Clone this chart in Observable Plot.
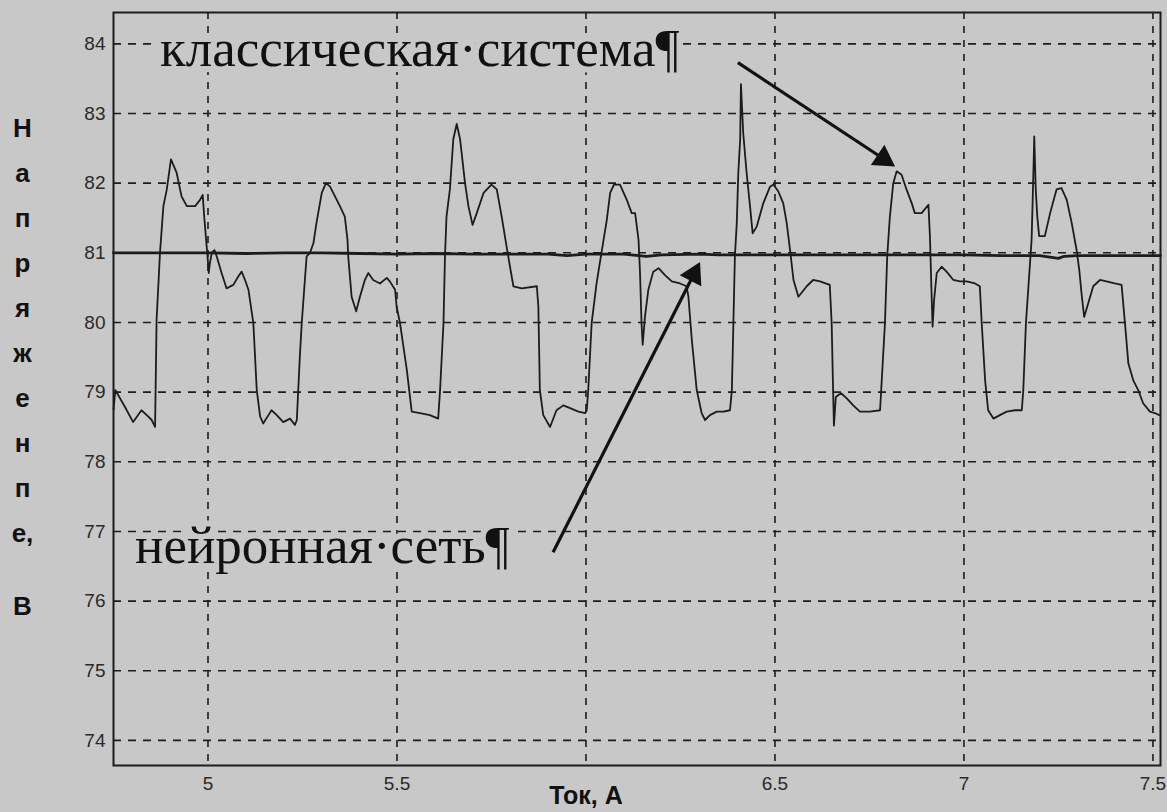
<!DOCTYPE html>
<html><head><meta charset="utf-8">
<script src="https://cdn.jsdelivr.net/npm/d3@7"></script>
<script src="https://cdn.jsdelivr.net/npm/@observablehq/plot@0.6"></script>
<style>
html,body{margin:0;padding:0;background:#c8c8c8;}
#chart svg{display:block}
</style></head><body><div id="chart"></div>
<script>
// "классическая система" – classic regulator output (voltage, V vs current, A)
const classicX = [4.750,4.755,4.758,4.780,4.802,4.824,4.838,4.851,4.860,4.864,4.873,4.882,4.891,4.902,4.917,4.930,4.944,4.966,4.979,4.986,4.990,4.995,4.998,5.002,5.005,5.010,5.017,5.023,5.036,5.049,5.067,5.080,5.089,5.098,5.107,5.120,5.129,5.138,5.146,5.160,5.168,5.182,5.199,5.217,5.230,5.235,5.243,5.248,5.257,5.261,5.270,5.279,5.287,5.301,5.312,5.323,5.349,5.362,5.369,5.371,5.380,5.392,5.402,5.415,5.424,5.437,5.455,5.473,5.481,5.495,5.499,5.508,5.526,5.539,5.561,5.587,5.609,5.614,5.623,5.627,5.631,5.640,5.649,5.658,
5.667,5.680,5.689,5.700,5.711,5.729,5.750,5.764,5.777,5.790,5.799,5.808,5.830,5.870,5.874,5.878,5.887,5.905,5.922,5.940,5.958,5.980,5.998,6.002,6.006,6.015,6.028,6.041,6.055,6.064,6.074,6.090,6.108,6.121,6.130,6.139,6.143,6.147,6.150,6.156,6.165,6.178,6.192,6.209,6.227,6.249,6.266,6.271,6.280,6.293,6.306,6.315,6.328,6.346,6.364,6.381,6.386,6.390,6.394,6.399,6.403,6.408,6.410,6.416,6.425,6.434,6.441,6.452,6.469,6.487,6.496,6.509,6.522,6.531,6.540,6.549,6.562,
6.584,6.601,6.619,6.645,6.650,6.654,6.656,6.661,6.668,6.676,6.690,6.707,6.725,6.751,6.778,6.782,6.791,6.797,6.804,6.813,6.822,6.835,6.848,6.862,6.870,6.888,6.906,6.910,6.914,6.917,6.921,6.928,6.941,6.954,6.972,6.989,7.007,7.029,7.042,7.047,7.056,7.064,7.078,7.095,7.113,7.135,7.153,7.157,7.164,7.173,7.179,7.183,7.186,7.190,7.194,7.199,7.214,7.228,7.245,7.258,7.272,7.285,7.298,7.305,7.311,7.318,7.329,7.342,7.360,7.377,7.399,7.417,7.426,7.435,7.448,7.461,7.474,7.492,7.505,7.517];
const classicY = [78.75,79.03,79.00,78.79,78.57,78.74,78.67,78.60,78.50,80.04,81.00,81.67,81.91,82.34,82.15,81.81,81.67,81.67,81.76,81.83,81.52,81.19,81.00,80.71,80.85,81.00,81.04,80.95,80.71,80.49,80.54,80.66,80.73,80.61,80.47,79.99,79.03,78.65,78.55,78.67,78.74,78.67,78.57,78.62,78.53,78.60,79.51,79.99,80.66,80.95,81.00,81.14,81.43,81.86,82.00,81.95,81.67,81.52,81.19,80.95,80.37,80.16,80.37,80.61,80.71,80.61,80.56,80.64,80.59,80.47,80.23,79.99,79.32,78.72,78.70,78.67,78.62,79.03,79.99,80.95,81.52,81.91,82.63,82.85,
82.63,82.00,81.67,81.40,81.57,81.86,81.98,81.91,81.52,81.09,80.80,80.52,80.49,80.52,80.23,79.03,78.67,78.50,78.74,78.81,78.77,78.72,78.70,78.74,79.03,79.99,80.56,81.00,81.47,81.86,81.98,81.98,81.76,81.57,81.57,81.19,80.71,79.99,79.68,80.08,80.47,80.73,80.78,80.68,80.59,80.56,80.52,80.37,79.75,79.03,78.70,78.60,78.67,78.72,78.72,78.74,79.03,79.99,80.95,81.43,82.15,82.63,83.42,82.72,82.15,81.67,81.28,81.38,81.71,81.95,81.98,81.88,81.71,81.43,81.04,80.61,80.37,
80.52,80.61,80.59,80.54,79.99,78.98,78.52,78.93,78.96,78.98,78.91,78.81,78.72,78.72,78.74,79.12,79.99,80.95,81.52,82.00,82.17,82.12,81.91,81.71,81.57,81.57,81.69,81.24,80.47,79.94,80.32,80.71,80.80,80.73,80.61,80.59,80.59,80.56,80.52,79.99,79.17,78.74,78.62,78.67,78.72,78.74,78.74,79.03,79.99,80.71,81.19,82.00,82.67,81.91,81.52,81.24,81.24,81.57,81.91,81.93,81.76,81.43,81.04,80.76,80.42,80.08,80.28,80.52,80.61,80.59,80.56,80.54,79.99,79.41,79.17,79.03,78.84,78.72,78.70,78.67];

// "нейронная сеть" – neural-network regulator output
const neuralX = [4.750,4.900,5.000,5.100,5.200,5.300,5.400,5.500,5.600,5.700,5.800,5.900,5.950,6.000,6.100,6.160,6.200,6.300,6.350,6.400,6.500,6.600,6.700,6.800,6.900,7.000,7.100,7.200,7.250,7.265,7.300,7.400,7.520];
const neuralY = [81.00,81.00,81.00,80.99,81.00,81.00,80.99,80.98,80.99,80.98,80.98,80.98,80.96,80.98,80.98,80.95,80.97,80.98,80.97,80.97,80.97,80.97,80.97,80.97,80.97,80.97,80.96,80.96,80.92,80.95,80.96,80.96,80.96];

const xTicks = [5, 5.5, 6, 6.5, 7, 7.5];
const xTickLabels = ["5", "5.5", "", "6.5", "7", "7.5"];
const yTicks = [74, 75, 76, 77, 78, 79, 80, 81, 82, 83, 84];
const xAxisLabel = "Ток, А";
const yAxisLetters = ["Н", "а", "п", "р", "я", "ж", "е", "н", "п", "е,"];
const yAxisUnit = "В";

const labelTexts = ["классическая·система¶", "нейронная·сеть¶"];
const labelX = [4.873, 4.807];
const labelY = [83.68, 76.54];

const arrowX1 = [6.402, 5.913];
const arrowY1 = [83.73, 76.70];
const arrowX2 = [6.787, 6.285];
const arrowY2 = [82.35, 80.69];
const arrowAngle = [124, 27];

const paper = "#c8c8c8";
const ink = "#1c1c1c";

const classic = classicX.map((x, i) => ({x, y: classicY[i]}));
const neural = neuralX.map((x, i) => ({x, y: neuralY[i]}));
const labels = labelTexts.map((t, i) => ({t, x: labelX[i], y: labelY[i]}));
const arrows = arrowX1.map((x1, i) => ({x1, y1: arrowY1[i], x2: arrowX2[i], y2: arrowY2[i], a: arrowAngle[i]}));

const chart = Plot.plot({
  width: 1167,
  height: 812,
  marginLeft: 113,
  marginRight: 7,
  marginTop: 12,
  marginBottom: 47,
  x: {domain: [4.75, 7.52]},
  y: {domain: [73.64, 84.45]},
  style: {background: paper, color: "#2a2a2a", fontFamily: "'Liberation Sans', Arial, sans-serif"},
  marks: [
    Plot.gridX(xTicks, {stroke: ink, strokeOpacity: 1, strokeWidth: 1.6, strokeDasharray: "7,7"}),
    Plot.gridY(yTicks, {stroke: ink, strokeOpacity: 1, strokeWidth: 1.6, strokeDasharray: "8,7"}),
    Plot.frame({stroke: ink, strokeWidth: 2}),
    Plot.line(neural, {x: "x", y: "y", stroke: ink, strokeWidth: 2.8}),
    Plot.line(classic, {x: "x", y: "y", stroke: ink, strokeWidth: 1.8, strokeLinejoin: "round"}),
    Plot.axisX(xTicks, {tickSize: 0, tickPadding: 11, fontSize: 19, label: null,
      tickFormat: (d) => xTickLabels[xTicks.indexOf(d)]}),
    Plot.axisX([6], {tickSize: 0, tickPadding: 21, fontSize: 25, fontWeight: "bold", label: null, fill: "#111",
      tickFormat: () => xAxisLabel}),
    Plot.axisY(yTicks, {tickSize: 0, tickPadding: 8, fontSize: 19, label: null, tickFormat: (d) => String(d)}),
    Plot.text(labels, {x: "x", y: "y", text: "t", textAnchor: "start", lineAnchor: "bottom",
      fontFamily: "'Liberation Serif', 'Times New Roman', serif", fontSize: 53, fill: "#111",
      stroke: paper, strokeWidth: 12}),
    Plot.link(arrows, {x1: "x1", y1: "y1", x2: "x2", y2: "y2", stroke: "#111", strokeWidth: 3.2}),
    Plot.dot(arrows, {x: "x2", y: "y2", symbol: "triangle", r: 9, fill: "#111", stroke: "none", rotate: "a"}),
    Plot.text([yAxisLetters.join("\n")], {frameAnchor: "top-left", dx: -91, dy: 93, lineAnchor: "top",
      textAnchor: "middle", lineHeight: 1.73, fontSize: 26, fontWeight: "bold", fill: "#111"}),
    Plot.text([yAxisUnit], {frameAnchor: "top-left", dx: -91, dy: 584, lineAnchor: "top",
      textAnchor: "middle", fontSize: 26, fontWeight: "bold", fill: "#111"})
  ]
});
document.getElementById("chart").appendChild(chart);
</script>
</body></html>
